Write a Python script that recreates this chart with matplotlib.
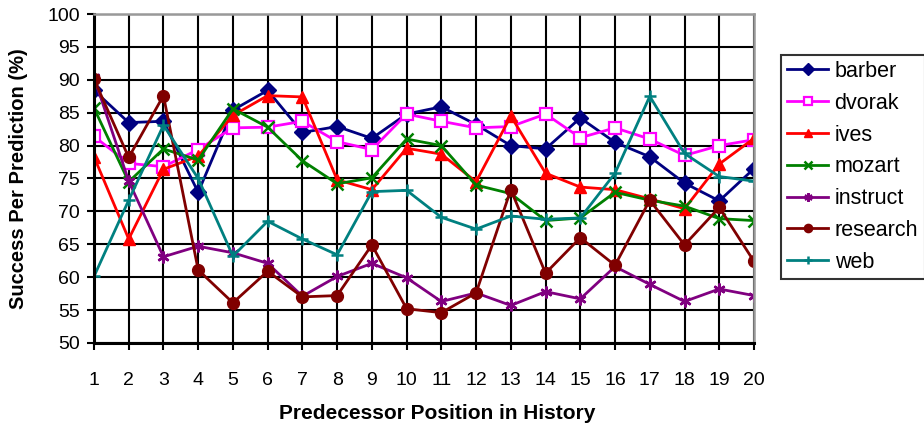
import matplotlib
matplotlib.use("Agg")
import matplotlib.pyplot as plt

plt.rcParams['font.family'] = ['Liberation Sans', 'DejaVu Sans']

positions = list(range(1, 21))

barber = [88.4, 83.5, 83.7, 72.9, 85.4, 88.4, 82.0, 82.9, 81.1, 84.8,
          85.9, 83.2, 80.0, 79.5, 84.2, 80.5, 78.3, 74.3, 71.6, 76.5]
dvorak = [81.4, 77.3, 76.8, 79.4, 82.7, 82.8, 83.7, 80.6, 79.4, 84.8,
          83.7, 82.7, 82.9, 84.8, 81.2, 82.7, 81.0, 78.5, 80.0, 80.9]
ives = [78.3, 65.8, 76.4, 78.4, 84.6, 87.6, 87.4, 74.8, 73.3, 79.6,
        78.7, 74.5, 84.5, 75.8, 73.7, 73.3, 71.9, 70.4, 77.2, 81.1]
mozart = [85.7, 74.5, 79.5, 77.8, 85.6, 82.8, 77.7, 74.2, 75.1, 81.0,
          80.0, 74.0, 72.7, 68.6, 69.0, 72.9, 71.7, 70.8, 68.9, 68.6]
instruct = [90.4, 74.6, 63.1, 64.7, 63.7, 62.1, 57.1, 60.1, 62.1, 59.9,
            56.3, 57.6, 55.7, 57.8, 56.7, 61.6, 58.9, 56.3, 58.2, 57.2]
research = [90.1, 78.2, 87.6, 61.1, 56.1, 60.9, 57.0, 57.2, 64.9, 55.2,
            54.6, 57.6, 73.3, 60.6, 66.0, 61.8, 71.7, 64.9, 70.6, 62.4]
web = [60.1, 71.7, 83.1, 75.0, 63.2, 68.5, 65.8, 63.4, 73.0, 73.2,
       69.1, 67.3, 69.3, 68.8, 69.0, 75.8, 87.5, 78.8, 75.3, 74.6]

series = [
    ("barber", barber, "#000080", "D", {}),
    ("dvorak", dvorak, "#ff00ff", "s", {"markerfacecolor": "white", "markeredgewidth": 1.6}),
    ("ives", ives, "#ff0000", "^", {}),
    ("mozart", mozart, "#008000", "x", {"markeredgewidth": 1.8}),
    ("instruct", instruct, "#800080", (6, 2, 0), {"markeredgewidth": 1.8}),
    ("research", research, "#800000", "o", {}),
    ("web", web, "#008080", "+", {"markeredgewidth": 1.8}),
]

fig = plt.figure(figsize=(9.24, 4.26), dpi=100)
ax = fig.add_axes([0.1017, 0.195, 0.7143, 0.772])

for name, vals, col, mk, extra in series:
    ax.plot(positions, vals, color=col, marker=mk, markersize=8.5,
            linewidth=2, label=name, markeredgecolor=col, **extra)

ax.set_xlim(1, 20)
ax.set_ylim(50, 100)
ax.set_xticks(positions)
ax.set_yticks(range(50, 101, 5))
ax.grid(True, color="black", linewidth=1.5)
ax.set_axisbelow(True)
ax.tick_params(axis="both", direction="out", length=5, width=1.5, labelsize=14, pad=5)
ax.tick_params(axis="x", pad=16)

for s in ["top", "right"]:
    ax.spines[s].set_color("#999999")
    ax.spines[s].set_linewidth(1.8)
for s in ["left", "bottom"]:
    ax.spines[s].set_color("black")
    ax.spines[s].set_linewidth(2.2)

ax.set_xlabel("Predecessor Position in History", fontsize=15, fontweight="bold")
ax.set_ylabel("Success Per Prediction (%)", fontsize=14.5, fontweight="bold")
ax.xaxis.set_label_coords(0.52, -0.185)
ax.yaxis.set_label_coords(-0.1, 0.5)

leg = fig.legend(loc="upper left", bbox_to_anchor=(0.845, 0.872), fontsize=15.5,
                 frameon=True, fancybox=False, edgecolor="black",
                 handlelength=1.9, labelspacing=0.5, borderpad=0.3,
                 handletextpad=0.3, markerscale=0.7, borderaxespad=0)
leg.get_frame().set_linewidth(1.5)

fig.savefig("out.png", dpi=100)
